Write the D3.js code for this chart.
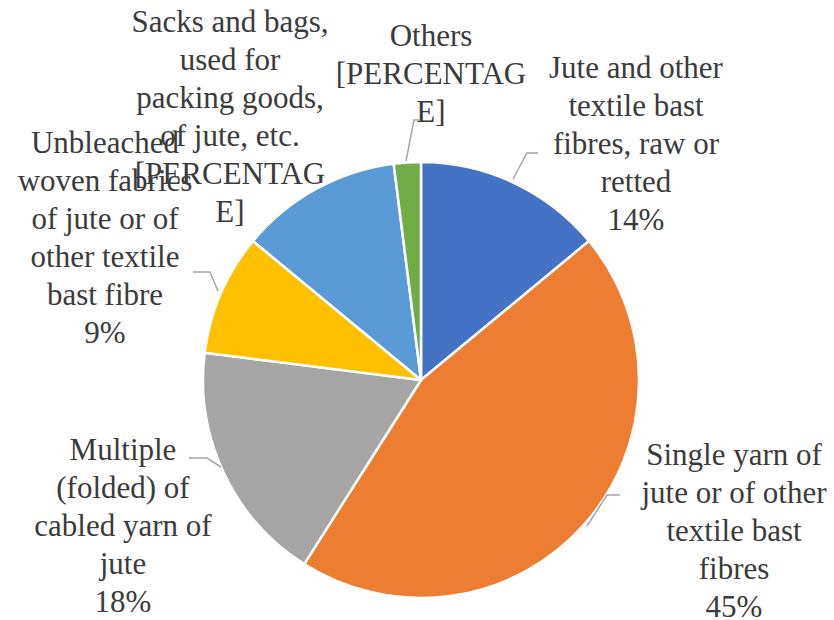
<!DOCTYPE html>
<html>
<head>
<meta charset="utf-8">
<script src="https://cdn.jsdelivr.net/npm/d3@7"></script>
</head>
<body style="margin:0">
<svg id="chart" width="834" height="620"></svg>
<script>
// Jute product export shares (%)
const categories = [
  "Jute and other textile bast fibres, raw or retted",
  "Single yarn of jute or of other textile bast fibres",
  "Multiple (folded) of cabled yarn of jute",
  "Unbleached woven fabrics of jute or of other textile bast fibre",
  "Sacks and bags, used for packing goods, of jute, etc.",
  "Others"
];
const values = [14, 45, 18, 9, 12, 2];
const colors = ["#4472C4", "#ED7D31", "#A5A5A5", "#FFC000", "#5B9BD5", "#70AD47"];

// Wrapped label lines for each category
const labelLines = [
  ["Jute and other", "textile bast", "fibres, raw or", "retted"],
  ["Single yarn of", "jute or of other", "textile bast", "fibres"],
  ["Multiple", "(folded) of", "cabled yarn of", "jute"],
  ["Unbleached", "woven fabrics", "of jute or of", "other textile", "bast fibre"],
  ["Sacks and bags,", "used for", "packing goods,", "of jute, etc."],
  ["Others"]
];
// Whether the value field rendered as a number or as the unresolved placeholder
const showsNumber = [true, true, true, true, false, false];
const placeholderLines = ["[PERCENTAG", "E]"];

// Layout: label anchor (centre x, first baseline y) and leader polylines
const labelPos = [
  [636, 78], [734, 465], [123, 460], [105, 153], [230, 32], [431, 46]
];
const leaders = [
  [[513, 179], [527, 153], [538, 153]],
  [[587, 526], [607, 495], [620, 495]],
  [[221, 467], [207, 458], [189, 458]],
  [[218, 291], [210, 272], [193, 272]],
  null,
  [[406, 161], [414, 120], [419, 120]]
];

const svg = d3.select("#chart");
svg.append("rect").attr("width", 834).attr("height", 620).attr("fill", "#ffffff");
const cx = 421, cy = 380, radius = 218;
const lineH = 38;

const pie = d3.pie().sort(null).value(d => d)(values);
const arc = d3.arc().innerRadius(0).outerRadius(radius);

svg.append("g")
  .attr("transform", `translate(${cx},${cy})`)
  .selectAll("path")
  .data(pie)
  .join("path")
  .attr("d", arc)
  .attr("fill", (d, i) => colors[i])
  .attr("stroke", "#ffffff")
  .attr("stroke-width", 2.5)
  .attr("stroke-linejoin", "round");

// Leader lines
const line = d3.line();
svg.selectAll("path.leader")
  .data(leaders.filter(d => d))
  .join("path")
  .attr("class", "leader")
  .attr("d", d => line(d))
  .attr("fill", "none")
  .attr("stroke", "#a6a6a6")
  .attr("stroke-width", 1.5);

// Data labels, one text element per wrapped line, centred by measured width
const fmt = d3.format(".0f");
const labelRows = [];
categories.forEach((c, i) => {
  const lines = labelLines[i].concat(showsNumber[i] ? [fmt(values[i]) + "%"] : placeholderLines);
  lines.forEach((s, k) => labelRows.push({ s, x: labelPos[i][0], y: labelPos[i][1] + k * lineH }));
});

const serif = '"Liberation Serif", Tinos, "Times New Roman", Times, serif';
svg.selectAll("text.lbl")
  .data(labelRows)
  .join("text")
  .attr("class", "lbl")
  .attr("font-family", serif)
  .style("font-family", serif)
  .style("font-size", "31px")
  .attr("fill", "#3b3b3b")
  .attr("y", d => d.y)
  .text(d => d.s)
  .attr("x", function (d) { return d.x - this.getComputedTextLength() / 2; });
</script>
</body>
</html>
